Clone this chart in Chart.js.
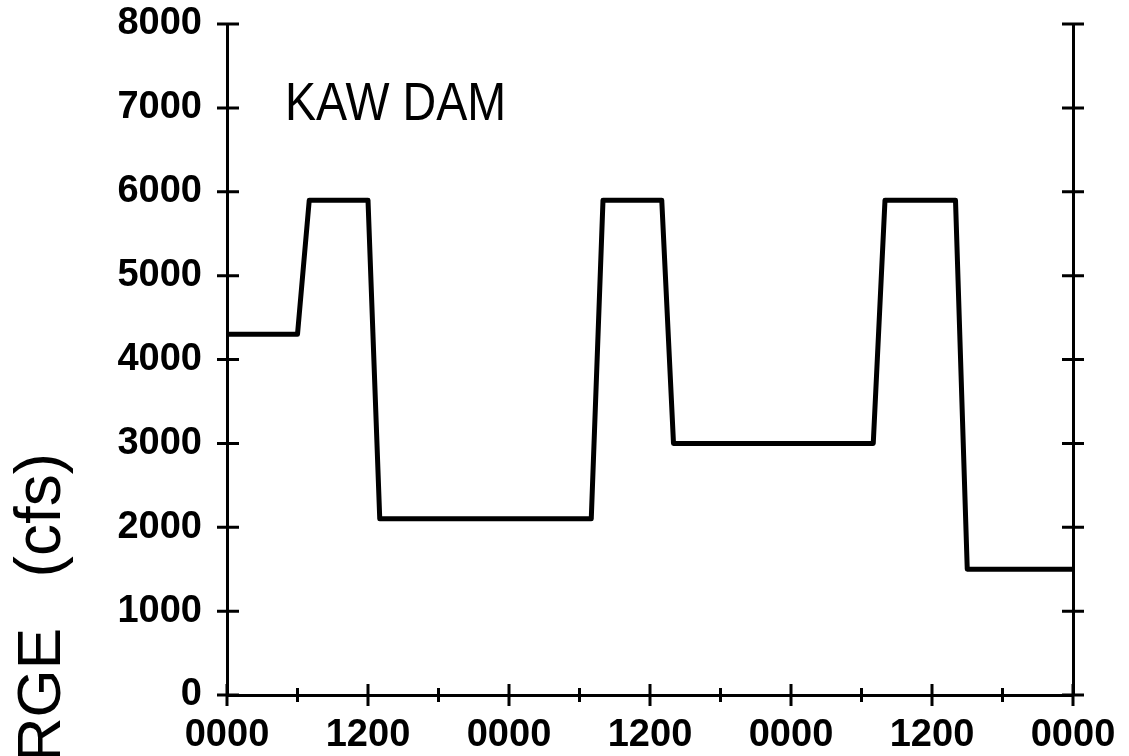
<!DOCTYPE html>
<html>
<head>
<meta charset="utf-8">
<script src="https://cdn.jsdelivr.net/npm/chart.js@4"></script>
<style>
  html, body { margin: 0; padding: 0; background: #fff; }
  #wrap { width: 1129px; height: 756px; position: relative; }
</style>
</head>
<body>
<div id="wrap"><canvas id="chart"></canvas></div>
<script>
// hours since start, discharge in cfs
const hours     = [0, 6, 7, 12, 13, 31, 32, 37, 38, 55, 56, 62, 63, 72];
const discharge = [4300, 4300, 5900, 5900, 2100, 2100, 5900, 5900, 3000, 3000, 5900, 5900, 1500, 1500];

const xTickLabels = ['0000', '1200', '0000', '1200', '0000', '1200', '0000'];
const xMinorTicks = [6, 18, 30, 42, 54, 66];
const yTicks      = [0, 1000, 2000, 3000, 4000, 5000, 6000, 7000, 8000];

const tickFont = { family: 'Liberation Sans, Arial, sans-serif', size: 38, weight: 'bold' };

// drop the label overflow so the plot box sits where the layout padding says
function noOverflow(s) {
  s.paddingTop = 0; s.paddingBottom = 0; s.paddingLeft = 0; s.paddingRight = 0;
}

// tick marks that cross the axes, plus the title and the y label
const decorations = {
  id: 'decorations',
  afterDraw(chart) {
    const { ctx, chartArea: a, scales } = chart;
    const x = scales.x, y = scales.y;
    ctx.save();
    ctx.strokeStyle = '#000';
    ctx.lineWidth = 3;
    ctx.lineCap = 'butt';
    ctx.beginPath();
    yTicks.forEach(v => {
      const py = y.getPixelForValue(v);
      ctx.moveTo(a.left - 10, py); ctx.lineTo(a.left + 12, py);
      ctx.moveTo(a.right - 11, py); ctx.lineTo(a.right + 11, py);
    });
    x.ticks.forEach(t => {
      const px = x.getPixelForValue(t.value);
      ctx.moveTo(px, a.bottom - 11); ctx.lineTo(px, a.bottom + 11);
    });
    xMinorTicks.forEach(h => {
      const px = x.getPixelForValue(h);
      ctx.moveTo(px, a.bottom - 7); ctx.lineTo(px, a.bottom + 7);
    });
    ctx.stroke();

    ctx.fillStyle = '#000';
    // title, slightly condensed
    ctx.save();
    ctx.translate(285, 120);
    ctx.scale(0.88, 1);
    ctx.font = '53px Liberation Sans, Arial, sans-serif';
    ctx.textAlign = 'left';
    ctx.textBaseline = 'alphabetic';
    ctx.fillText('KAW DAM', 0, 0);
    ctx.restore();

    // y axis title, runs off the bottom of the picture
    ctx.save();
    ctx.translate(60, 0);
    ctx.rotate(-Math.PI / 2);
    ctx.textAlign = 'right';
    ctx.textBaseline = 'alphabetic';
    ctx.font = '64px Liberation Sans, Arial, sans-serif';
    ctx.fillText('(cfs)', -453, 0);
    ctx.font = '62px Liberation Sans, Arial, sans-serif';
    ctx.fillText('DISCHARGE', -628, 0);
    ctx.restore();
    ctx.restore();
  }
};

new Chart(document.getElementById('chart'), {
  type: 'line',
  data: {
    datasets: [{
      data: hours.map((h, i) => ({ x: h, y: discharge[i] })),
      borderColor: '#000',
      borderWidth: 5,
      borderJoinStyle: 'round',
      pointRadius: 0,
      tension: 0,
      fill: false
    }]
  },
  options: {
    responsive: true,
    maintainAspectRatio: false,
    animation: false,
    layout: { padding: { left: 0, top: 24, right: 56, bottom: 0 } },
    plugins: { legend: { display: false }, tooltip: { enabled: false } },
    scales: {
      x: {
        type: 'linear', min: 0, max: 72,
        afterFit: s => { s.height = 61; noOverflow(s); },
        grid: { display: true, drawOnChartArea: false, drawTicks: false },
        border: { display: true, color: '#000', width: 3 },
        ticks: {
          stepSize: 12, padding: 18, color: '#000', font: tickFont, maxRotation: 0,
          callback: (v, i) => xTickLabels[i]
        }
      },
      y: {
        min: 0, max: 8000,
        afterFit: s => { s.width = 227; noOverflow(s); },
        grid: { display: true, drawOnChartArea: false, drawTicks: false },
        border: { display: true, color: '#000', width: 3 },
        ticks: { stepSize: 1000, padding: 25, color: '#000', font: tickFont, callback: v => String(v) }
      },
      y2: {
        position: 'right', min: 0, max: 8000,
        afterFit: s => { s.width = 0; noOverflow(s); },
        grid: { display: true, drawOnChartArea: false, drawTicks: false },
        border: { display: true, color: '#000', width: 3 },
        ticks: { display: false, stepSize: 1000 }
      }
    }
  },
  plugins: [decorations]
});
</script>
</body>
</html>
